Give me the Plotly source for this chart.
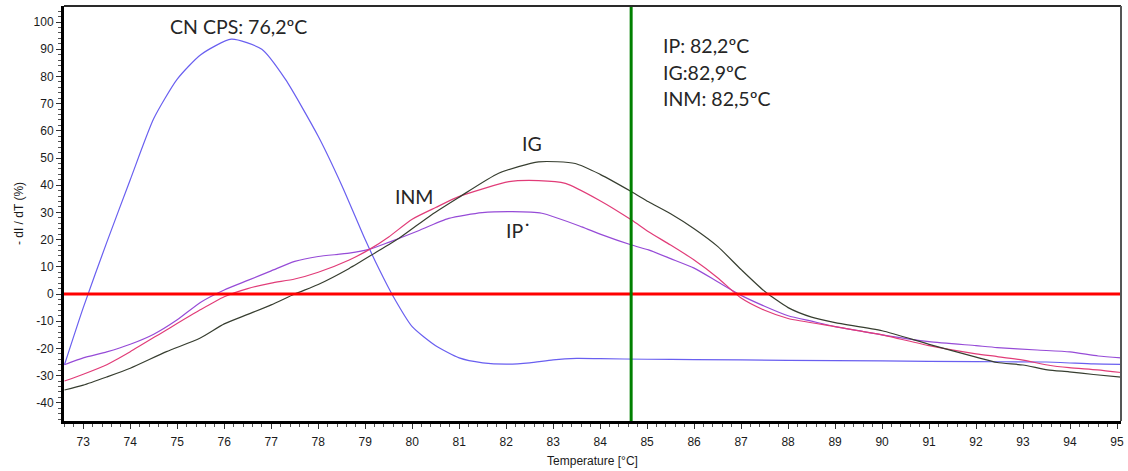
import plotly.graph_objects as go

# ---- data ----
cn_x = [72.6, 73.0, 73.5, 74.0, 74.5, 75.0, 75.5, 76.15, 76.8, 77.3, 78.0, 78.5, 79.0, 79.3, 79.6,
        80.0, 80.5, 81.0, 81.5, 82.0, 82.5, 83.0, 83.5, 84.0, 85.0, 86.0, 88.0, 90.0, 92.0, 93.5, 94.5, 95.1]
cn_y = [-26, -5, 19, 42, 64.5, 79, 88, 93.7, 90, 79, 58, 40, 20, 9, -1,
        -12, -19, -23.5, -25.3, -25.8, -25.3, -24.2, -23.7, -23.8, -24.0, -24.1, -24.4, -24.6, -24.9, -25.0, -25.7, -25.9]

ip_x = [72.6, 73.0, 73.5, 74.0, 74.5, 75.0, 75.5, 76.0, 76.5, 77.0, 77.5, 78.0, 78.66, 79.1, 79.5,
        80.08, 80.78, 81.49, 82.13, 82.76, 83.61, 84.0, 84.67, 85.03, 85.5, 86.0, 86.5, 87.0, 87.5,
        88.0, 88.5, 89.0, 89.5, 90.0, 91.0, 92.0, 92.45, 93.3, 94.0, 94.6, 95.1]
ip_y = [-26, -23.5, -21.3, -18.5, -14.8, -9.5, -3, 1.5, 5, 8.5, 12, 13.8, 15, 16.5, 19,
        22.9, 27.8, 29.9, 30.3, 29.7, 24.7, 22, 18, 16.2, 13, 9.5, 4.5, -0.5, -4.5,
        -8, -10, -12, -13.5, -15, -17.5, -19, -19.7, -20.6, -21.3, -22.8, -23.5]

inm_x = [72.6, 73.0, 73.5, 74.0, 74.77, 75.48, 76.0, 76.5, 77.0, 77.5, 78.0, 78.66, 79.1, 79.5,
         80.0, 80.5, 80.99, 82.06, 82.69, 83.26, 83.97, 84.67, 85.03, 85.5, 86.0, 86.5, 87.0, 87.5,
         88.0, 89.0, 90.0, 91.0, 92.0, 92.45, 93.0, 93.52, 93.98, 94.58, 95.1]
inm_y = [-32, -29.5, -26, -21.2, -13.2, -5.9, -1, 2, 4, 5.5, 8, 12.5, 16.5, 21,
         27.5, 31.8, 35.8, 41.3, 41.7, 40.7, 34.6, 27.2, 22.9, 18, 12.5, 6, -1.5, -6,
         -9, -12, -15, -19, -22, -23.0, -24.3, -26.1, -27.1, -27.9, -28.9]

ig_x = [72.6, 73.0, 73.5, 74.0, 74.77, 75.48, 76.0, 76.5, 77.0, 77.5, 78.0, 78.66, 79.2, 79.72,
        80.4, 80.99, 81.84, 82.69, 83.47, 84.0, 84.67, 85.03, 85.5, 86.0, 86.5, 87.0, 87.5,
        88.0, 88.5, 89.0, 90.0, 91.0, 92.0, 92.45, 93.0, 93.52, 93.98, 94.5, 95.1]
ig_y = [-35.3, -33.5, -30.5, -27.3, -21.2, -16.3, -11, -7.5, -4, 0, 3.5, 9.4, 15, 20.5,
        29, 35.5, 44.4, 48.6, 48, 44, 37.6, 33.9, 29.5, 24, 17.5, 9, 1,
        -5, -8.5, -10.5, -13.5, -18.5, -23.2, -25.2, -26.1, -27.9, -28.6, -29.6, -30.6]

x_ticks = list(range(73, 96))
y_ticks = list(range(-40, 101, 10))
marker_temp = 84.66

labels_peak = ["IP: 82,2ºC", "IG:82,9ºC", "INM: 82,5ºC"]
label_cn = "CN CPS: 76,2ºC"

fig = go.Figure()
series = [
    (cn_x, cn_y, "CN CPS", "rgb(105,95,240)"),
    (ip_x, ip_y, "IP", "rgb(150,75,215)"),
    (inm_x, inm_y, "INM", "rgb(225,60,120)"),
    (ig_x, ig_y, "IG", "rgb(55,62,48)"),
]
for xs, ys, name, col in series:
    fig.add_trace(go.Scatter(x=xs, y=ys, mode="lines", name=name,
                             line=dict(color=col, width=1.2, shape="spline", smoothing=0.6)))

XR = [72.59, 95.085]
YR = [-46.7, 105.9]

# zero line and marker line
fig.add_shape(type="line", xref="paper", yref="y", x0=0, x1=1, y0=0, y1=0,
              line=dict(color="#ff0000", width=3))
fig.add_shape(type="line", xref="x", yref="paper", x0=marker_temp, x1=marker_temp, y0=0, y1=1,
              line=dict(color="#008000", width=3))
# top/right frame
fig.add_shape(type="line", xref="paper", yref="paper", x0=0, x1=1, y0=1, y1=1,
              line=dict(color="#2a2a2a", width=2))
fig.add_shape(type="line", xref="paper", yref="paper", x0=1, x1=1, y0=0, y1=1,
              line=dict(color="#555555", width=2))

tfont = dict(family="Lato", size=19.5, color="#262626")
fig.add_annotation(x=74.80, y=98.2, text=label_cn, showarrow=False, xanchor="left", yanchor="middle", font=tfont)
for i, t in enumerate(labels_peak):
    fig.add_annotation(x=85.30, y=91.3 - i * 9.7, text=t, showarrow=False,
                       xanchor="left", yanchor="middle", font=tfont)
fig.add_annotation(x=82.54, y=55.5, text="IG", showarrow=False, font=tfont)
fig.add_annotation(x=80.04, y=35.7, text="INM", showarrow=False, font=tfont)
fig.add_annotation(x=81.95, y=23.5, text="IP˙", showarrow=False, xanchor="left", font=tfont)

axfont = dict(family="Liberation Sans, Arial", size=12, color="#1a1a1a")
fig.update_layout(
    width=1128, height=471,
    margin=dict(l=64, r=4, t=6, b=50),
    paper_bgcolor="white", plot_bgcolor="white",
    showlegend=False,
    xaxis=dict(range=XR, tickmode="array", tickvals=x_ticks, ticktext=[str(v) for v in x_ticks],
               showgrid=False, zeroline=False, showline=True, linecolor="black", linewidth=3,
               ticks="outside", ticklen=5, tickcolor="#333", tickwidth=1, ticklabelstandoff=3,
               minor=dict(dtick=0.2, ticks="outside", ticklen=3, tickcolor="#555", showgrid=False),
               tickfont=axfont,
               title=dict(text="Temperature [°C]", font=axfont, standoff=9)),
    yaxis=dict(range=YR, tickmode="array", tickvals=y_ticks, ticktext=[str(v) for v in y_ticks],
               showgrid=False, zeroline=False, showline=True, linecolor="black", linewidth=3,
               ticks="outside", ticklen=5, tickcolor="#333", tickwidth=1,
               minor=dict(dtick=2, ticks="outside", ticklen=3, tickcolor="#555", showgrid=False),
               tickfont=axfont,
               title=dict(text="- dI / dT (%)", font=axfont, standoff=8)),
)

fig.write_html("out.html")
